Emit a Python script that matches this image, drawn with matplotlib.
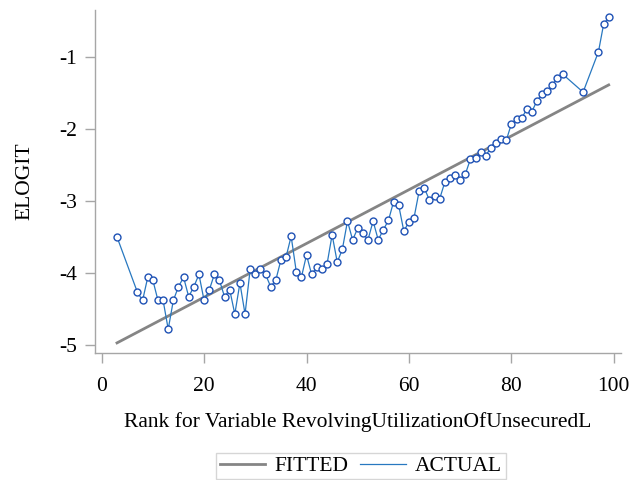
import matplotlib
matplotlib.use("Agg")
import matplotlib.pyplot as plt
from matplotlib.lines import Line2D

# Ranks present in the data (4-6, 91-93, 95-96 missing)
ranks = [3] + list(range(7, 91)) + [94, 97, 98, 99]

actual = [
    -3.50,
    -4.27, -4.38, -4.06, -4.10, -4.38, -4.38, -4.78, -4.38, -4.19, -4.06,
    -4.33, -4.19, -4.02, -4.38, -4.24, -4.02, -4.10, -4.33, -4.23, -4.57,
    -4.14, -4.57, -3.95, -4.02, -3.95, -4.02, -4.19, -4.10, -3.82, -3.78,
    -3.49, -3.98, -4.06, -3.75, -4.02, -3.92, -3.95, -3.88, -3.47, -3.85,
    -3.67, -3.28, -3.54, -3.38, -3.45, -3.54, -3.28, -3.54, -3.40, -3.27,
    -3.01, -3.06, -3.42, -3.29, -3.23, -2.86, -2.82, -2.99, -2.93, -2.97,
    -2.74, -2.68, -2.64, -2.71, -2.63, -2.42, -2.41, -2.32, -2.37, -2.26,
    -2.19, -2.14, -2.16, -1.93, -1.86, -1.85, -1.73, -1.76, -1.61, -1.52,
    -1.48, -1.39, -1.29, -1.24,
    -1.49, -0.93, -0.55, -0.45,
]

# FITTED regression line end points
fitted_x = [3, 99]
fitted_y = [-4.97, -1.39]

xticks = [0, 20, 40, 60, 80, 100]
yticks = [-5, -4, -3, -2, -1]

FITTED_COLOR = '#858585'
ACTUAL_COLOR = '#2878c0'

plt.rcParams['font.family'] = ['Liberation Serif', 'DejaVu Serif']

fig = plt.figure(figsize=(6.4, 4.8), dpi=100)
ax = fig.add_axes([0.1484, 0.2646, 0.8219, 0.7146])

ax.plot(fitted_x, fitted_y, color=FITTED_COLOR, linewidth=2.0)
ax.plot(ranks, actual, color=ACTUAL_COLOR, linewidth=0.9, marker='o',
        markersize=5, markerfacecolor='white', markeredgecolor='#1f52b5',
        markeredgewidth=1.0)

ax.set_xlim(-1.3, 101.4)
ax.set_ylim(-5.11, -0.35)
ax.set_xticks(xticks)
ax.set_yticks(yticks)
ax.set_yticklabels([str(v) for v in yticks])

for side in ['top', 'right']:
    ax.spines[side].set_visible(False)
for side in ['left', 'bottom']:
    ax.spines[side].set_color('#a6a6a6')
    ax.spines[side].set_linewidth(1.0)
ax.tick_params(axis='both', colors='#a6a6a6', length=7, width=1.0,
               labelcolor='black', labelsize=15.5)
ax.tick_params(axis='x', pad=10)
ax.tick_params(axis='y', pad=6)

ax.set_xlabel('Rank for Variable RevolvingUtilizationOfUnsecuredL',
              fontsize=15.5, labelpad=12)
ax.set_ylabel('ELOGIT', fontsize=15.5, labelpad=18)

# legend shows plain lines only
handles = [Line2D([], [], color=FITTED_COLOR, linewidth=2.0),
           Line2D([], [], color=ACTUAL_COLOR, linewidth=0.9)]
leg = fig.legend(handles, ['FITTED', 'ACTUAL'], loc='center', ncol=2,
                 bbox_to_anchor=(361 / 640, 1 - 466 / 480),
                 fontsize=15.5, frameon=True, fancybox=False,
                 handlelength=2.1, handletextpad=0.45, columnspacing=0.55,
                 borderpad=0.15, borderaxespad=0.0)
leg.get_frame().set_edgecolor('#cccccc')
leg.get_frame().set_linewidth(1.0)

fig.savefig('out.png', dpi=100)
